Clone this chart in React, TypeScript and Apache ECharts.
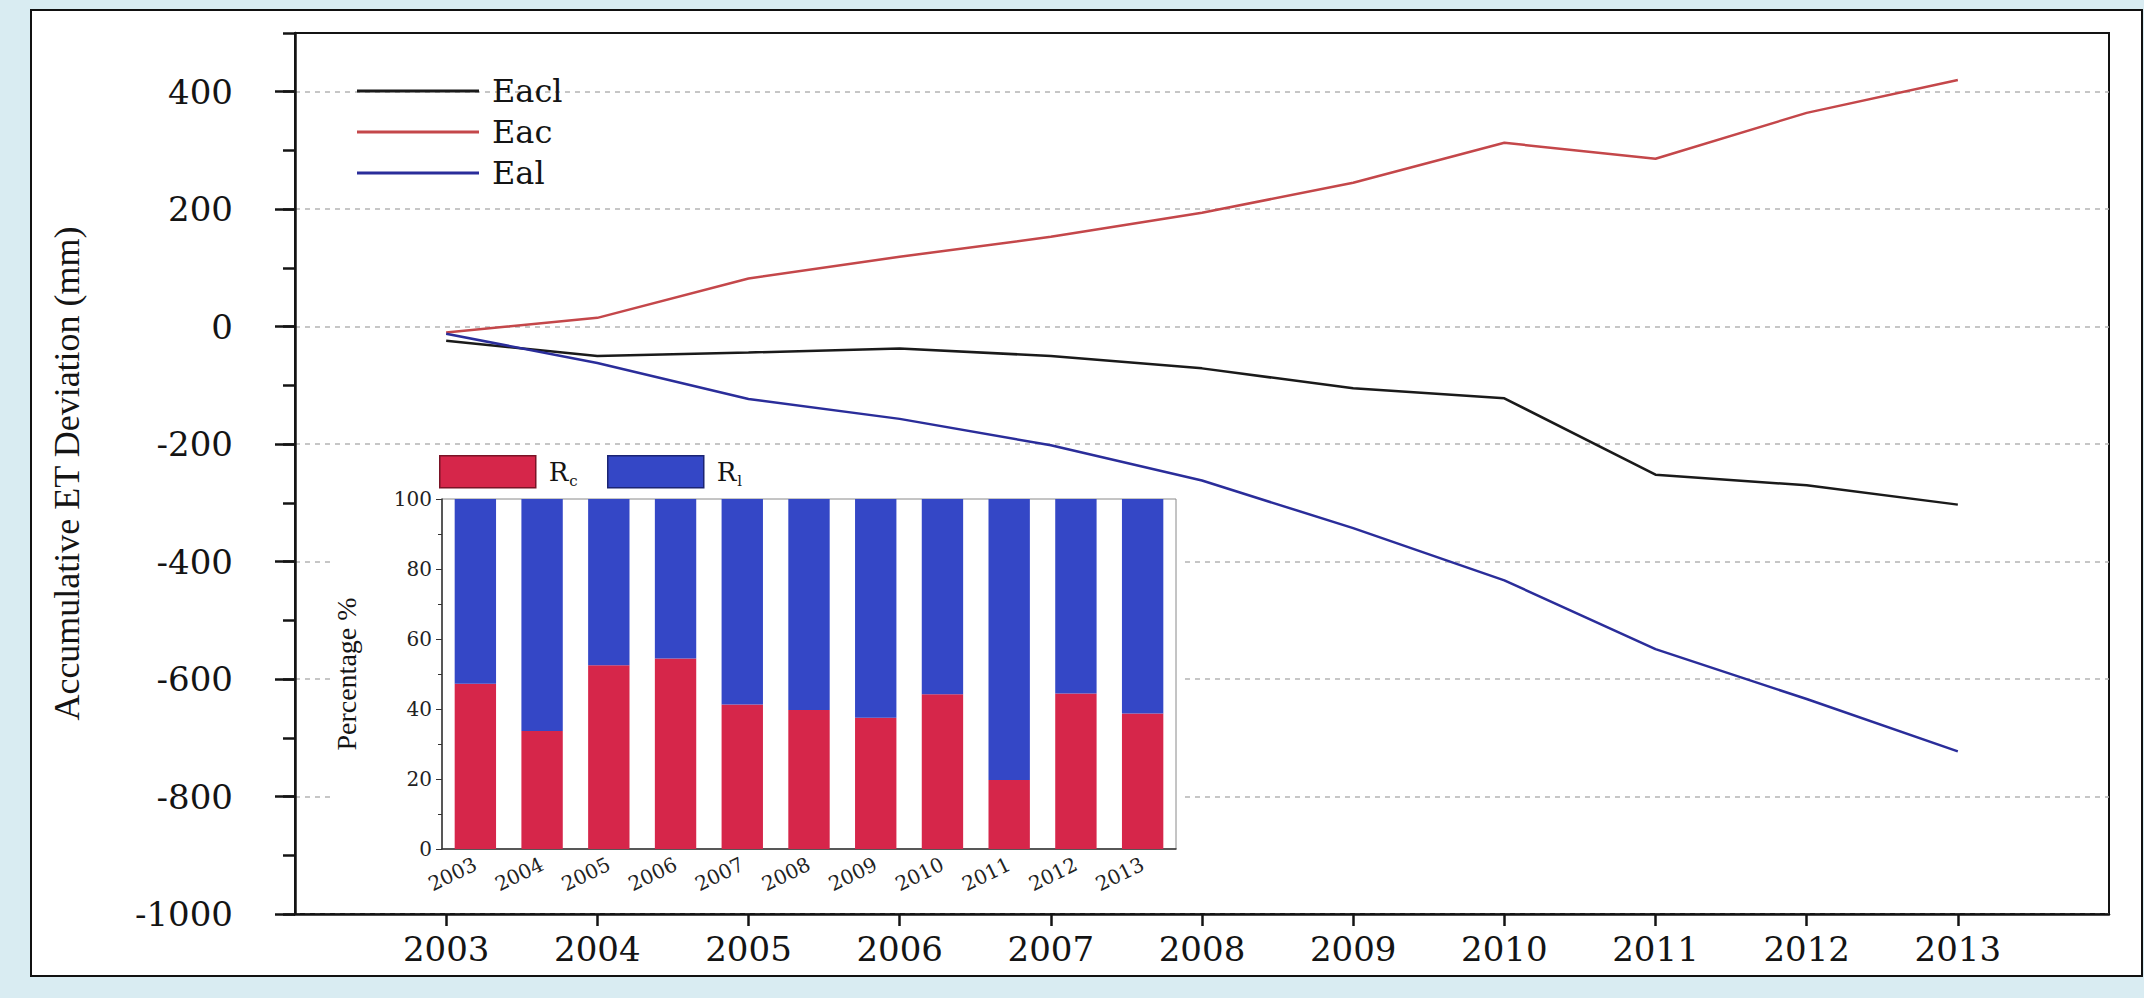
import React, { useEffect, useRef } from 'react';
import * as echarts from 'echarts';

// ---- data ----
const years = [2003, 2004, 2005, 2006, 2007, 2008, 2009, 2010, 2011, 2012, 2013];
const yearLabels = ['2003', '2004', '2005', '2006', '2007', '2008', '2009', '2010', '2011', '2012', '2013'];
const eacl = [-24, -50, -44, -37, -50, -71, -105, -122, -252, -270, -303];
const eac = [-10, 15, 82, 119, 153, 194, 245, 313, 286, 364, 420];
const eal = [-12, -62, -123, -157, -202, -262, -343, -432, -549, -634, -723];
const rc = [47.2, 33.7, 52.5, 54.4, 41.3, 39.7, 37.5, 44.2, 19.7, 44.4, 38.7];
const rl = [52.8, 66.3, 47.5, 45.6, 58.7, 60.3, 62.5, 55.8, 80.3, 55.6, 61.3];
const yTicks = [-1000, -800, -600, -400, -200, 0, 200, 400];

export default function App() {
  const ref = useRef<HTMLDivElement>(null);
  useEffect(() => {
    const chart = echarts.init(ref.current!, null, { renderer: 'svg' });
    const serif = '"DejaVu Serif", serif';
    const times = '"Liberation Serif", "Times New Roman", serif';
    const ink = '#141414';
    const rich = {
      r: { fontFamily: serif, fontSize: 26, color: ink, padding: [0, 0, 0, 8] },
      s: { fontFamily: serif, fontSize: 15, color: ink, verticalAlign: 'bottom', padding: [18, 0, 0, 1] },
    };
    const option: any = {
      animation: false,
      backgroundColor: 'transparent',
      grid: [
        { left: 295, right: 35, top: 33, bottom: 84, show: true, borderColor: ink, borderWidth: 2, backgroundColor: 'transparent' },
        { left: 442, right: 968, top: 499, bottom: 149, show: true, borderColor: '#8a8a8a', borderWidth: 1, backgroundColor: 'transparent', z: 3 },
      ],
      legend: [
        {
          orient: 'vertical', left: 357, top: 75, padding: 0, icon: 'rect', itemWidth: 122, itemHeight: 3, itemGap: 9,
          data: ['Eacl', 'Eac', 'Eal'],
          textStyle: { fontFamily: serif, fontSize: 32, color: ink, padding: [0, 0, 0, 8] },
        },
        {
          left: 439, top: 455, padding: 0, icon: 'rect', itemWidth: 96, itemHeight: 32, data: ['Rc'],
          itemStyle: { borderColor: '#7a1326', borderWidth: 1.5 },
          formatter: () => '{r|R}{s|c}',
          textStyle: { rich },
        },
        {
          left: 607, top: 455, padding: 0, icon: 'rect', itemWidth: 96, itemHeight: 32, data: ['Rl'],
          itemStyle: { borderColor: '#1b2473', borderWidth: 1.5 },
          formatter: () => '{r|R}{s|l}',
          textStyle: { rich },
        },
      ],
      xAxis: [
        {
          type: 'value', gridIndex: 0, min: 2002, max: 2014, interval: 1,
          axisLine: { onZero: false, lineStyle: { color: ink, width: 2.5 } },
          axisTick: { customValues: years, length: 12, lineStyle: { color: ink, width: 2.5 } },
          axisLabel: { customValues: years, fontFamily: serif, fontSize: 34, color: ink, margin: 18, formatter: (v: number) => String(v) },
          splitLine: { show: false },
        },
        {
          type: 'category', gridIndex: 1, data: yearLabels, z: 4,
          axisLine: { lineStyle: { color: '#333', width: 1.5 } },
          axisTick: { alignWithLabel: true, length: 5, lineStyle: { color: '#333' } },
          axisLabel: { rotate: 26, fontFamily: serif, fontSize: 20, color: '#222', margin: 14 },
        },
      ],
      yAxis: [
        {
          type: 'value', gridIndex: 0, min: -1000, max: 500, interval: 200,
          axisLine: { onZero: false, lineStyle: { color: ink, width: 2.5 } },
          axisTick: { customValues: yTicks, length: 20, lineStyle: { color: ink, width: 2.5 } },
          axisLabel: { customValues: yTicks, fontFamily: serif, fontSize: 34, color: ink, margin: 62, formatter: (v: number) => String(v) },
          splitLine: { show: true, lineStyle: { color: '#b4b4b4', width: 1.5, type: [5, 5] } },
          name: 'Accumulative ET Deviation (mm)', nameLocation: 'middle', nameGap: 210, nameRotate: 90,
          nameTextStyle: { fontFamily: times, fontSize: 36, color: ink },
        },
        {
          type: 'value', gridIndex: 0, min: -1000, max: 500, interval: 100, position: 'left',
          axisLine: { show: false },
          axisTick: { show: true, length: 12, lineStyle: { color: ink, width: 2.5 } },
          axisLabel: { show: false },
          splitLine: { show: false },
        },
        {
          type: 'value', gridIndex: 1, min: 0, max: 100, interval: 20, z: 4,
          axisLine: { show: true, lineStyle: { color: '#333', width: 1.5 } },
          axisTick: { show: true, length: 6, lineStyle: { color: '#333' } },
          minorTick: { show: true, splitNumber: 2, length: 4, lineStyle: { color: '#333' } },
          axisLabel: { fontFamily: serif, fontSize: 20, color: '#222', margin: 10 },
          splitLine: { show: false },
          name: 'Percentage %', nameLocation: 'middle', nameGap: 82, nameRotate: 90,
          nameTextStyle: { fontFamily: times, fontSize: 28, color: ink },
        },
      ],
      graphic: [
        { type: 'rect', z: 1, silent: true, shape: { x: 330, y: 490, width: 850, height: 415 }, style: { fill: '#ffffff' } },
      ],
      series: [
        {
          type: 'line', name: 'Eacl', xAxisIndex: 0, yAxisIndex: 0, symbol: 'none',
          data: years.map((y, i) => [y, eacl[i]]),
          lineStyle: { color: '#1a1a1a', width: 2.5 }, itemStyle: { color: '#1a1a1a' },
        },
        {
          type: 'line', name: 'Eac', xAxisIndex: 0, yAxisIndex: 0, symbol: 'none',
          data: years.map((y, i) => [y, eac[i]]),
          lineStyle: { color: '#c4474a', width: 2.5 }, itemStyle: { color: '#c4474a' },
        },
        {
          type: 'line', name: 'Eal', xAxisIndex: 0, yAxisIndex: 0, symbol: 'none',
          data: years.map((y, i) => [y, eal[i]]),
          lineStyle: { color: '#2a2d9a', width: 2.5 }, itemStyle: { color: '#2a2d9a' },
        },
        {
          type: 'bar', name: 'Rc', xAxisIndex: 1, yAxisIndex: 2, stack: 'pct', barWidth: '62%', z: 4,
          data: rc, itemStyle: { color: '#d6264a' },
        },
        {
          type: 'bar', name: 'Rl', xAxisIndex: 1, yAxisIndex: 2, stack: 'pct', barWidth: '62%', z: 4,
          data: rl, itemStyle: { color: '#3447c6' },
        },
      ],
    };
    chart.setOption(option);
    return () => chart.dispose();
  }, []);
  return (
    <div style={{ position: 'fixed', left: 0, top: 0, width: 2144, height: 998, background: '#d9ecf2' }}>
      <div style={{ position: 'absolute', left: 30, top: 9, width: 2113, height: 968, background: '#fff', border: '2.5px solid #111', boxSizing: 'border-box' }} />
      <div ref={ref} style={{ position: 'absolute', left: 0, top: 0, width: 2144, height: 998 }} />
    </div>
  );
}
